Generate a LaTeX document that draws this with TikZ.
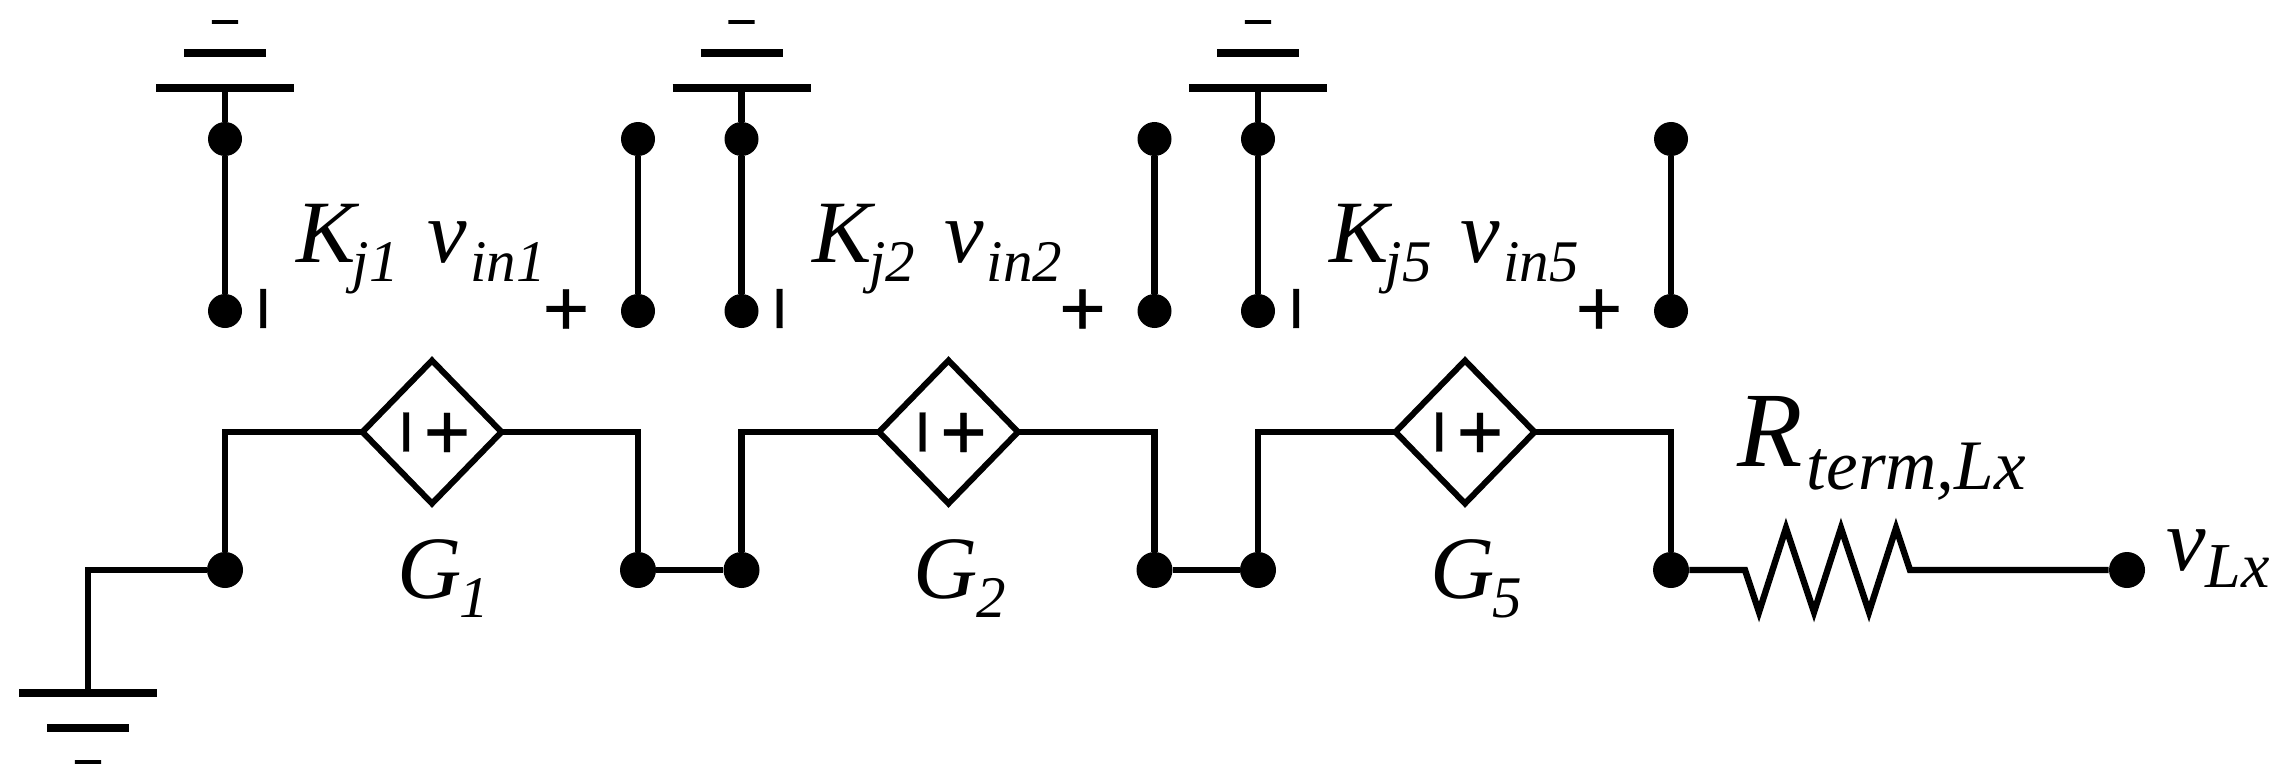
\documentclass[tikz,border=0pt]{standalone}
\usepackage{fontspec}
\setmainfont{Liberation Serif}
\newfontfamily\signfont[FakeBold=0.4]{Liberation Sans}
\newfontfamily\minusfont[FakeBold=4,FakeStretch=1.5]{Liberation Sans}
\usetikzlibrary{shapes.geometric,positioning}

\newcommand{\bigtxt}[1]{{\fontsize{44.5}{50}\selectfont\itshape #1}}
\newcommand{\subtxt}[1]{\raisebox{-9.5pt}{\fontsize{29.5}{32}\selectfont\itshape #1}}

\tikzset{
  wire/.style={line width=3.2pt},
  bar/.style={line width=3.6pt},
  dot/.style={circle,fill=black,inner sep=0pt,minimum size=17pt},
  bigdot/.style={dot,minimum size=18pt},
  source/.style={diamond,draw,line width=3pt,inner sep=0pt,minimum width=139*0.5pt,minimum height=143*0.5pt,outer sep=0pt},
  sign/.style={inner sep=0pt,font=\signfont\fontsize{40}{40}\selectfont},
  smallminus/.style={inner sep=0pt,font=\minusfont\fontsize{17}{17}\selectfont},
  lbl/.style={inner sep=0pt,anchor=base west},
  gnd/.pic={
    \draw[bar] (-69,0) -- (69,0);
    \draw[bar] (-41,35) -- (41,35);
  }
}

\begin{document}
\begin{tikzpicture}[x=0.5pt,y=-0.5pt]
  \useasboundingbox (0,0) rectangle (2284,781);

  \foreach \i/\n/\m in {0/1/1,1/2/2,2/5/5} {
    \begin{scope}[xshift=\i*258.25pt]
      \node[dot] (ta\n) at (225,139) {};
      \node[dot] (la\n) at (225,311) {};
      \node[dot] (tb\n) at (638,139) {};
      \node[dot] (lb\n) at (638,311) {};
      \node[bigdot] (ba\n) at (225,570) {};
      \node[bigdot] (bb\n) at (638,570) {};
      \node[source] (G\n) at (432,432) {};
      \coordinate (top\n) at (225,88);
      \pic at (225,88) [yscale=-1] {gnd};
      \node[smallminus] (tm\n) at (225,27) {−};

      \node[sign,rotate=90] (lm\n) at (275,308.5) {−};
      \node[sign] (lp\n) at (566,312.5) {+};
      \node[sign,rotate=90] (gm\n) at (418,432) {−};
      \node[sign] (gp\n) at (447,436) {+};

      \node[lbl] (k\n) at (296,262) {\bigtxt{K}\hspace{-1.5pt}\subtxt{j\m}\hspace{14.5pt}\bigtxt{v}\hspace{1.5pt}\subtxt{in\m}};
      \node[lbl] (gl\n) at (397,598) {\bigtxt{G}\hspace{-1pt}\subtxt{\m}};

      \draw[wire] (top\n) -- (ta\n);
      \draw[wire] (ta\n) -- (la\n);
      \draw[wire] (tb\n) -- (lb\n);
      \draw[wire] (ba\n) |- (G\n.west);
      \draw[wire] (G\n.east) -| (bb\n);
    \end{scope}
  }

  \draw[wire] (bb1) -- (ba2);
  \draw[wire] (bb2) -- (ba5);

  % ground on the left
  \coordinate (gnd0) at (88,693);
  \pic at (gnd0) {gnd};
  \node[smallminus] (gm0) at (88,767) {−};
  \draw[wire] (ba1) -| (gnd0);

  % termination
  \node[bigdot] (vout) at (2127,570) {};
  \coordinate (ra) at (1745,570);
  \coordinate (rb) at (1910,570);
  \draw[wire] (bb5) -- (ra) -- (1759,612) -- (1786,528) -- (1814,612) -- (1841,528)
    -- (1869,612) -- (1896,528) -- (rb) -- (vout);
  \node[lbl] (rterm) at (1737,466) {{\fontsize{53.5}{56}\selectfont\itshape R}\hspace{2pt}\raisebox{-11.5pt}{\fontsize{35.5}{38}\selectfont\itshape term,Lx}};
  \node[lbl] (vlx) at (2166,570) {\bigtxt{v}\raisebox{-8.5pt}{\fontsize{32}{34}\selectfont\itshape Lx}};
\end{tikzpicture}
\end{document}
